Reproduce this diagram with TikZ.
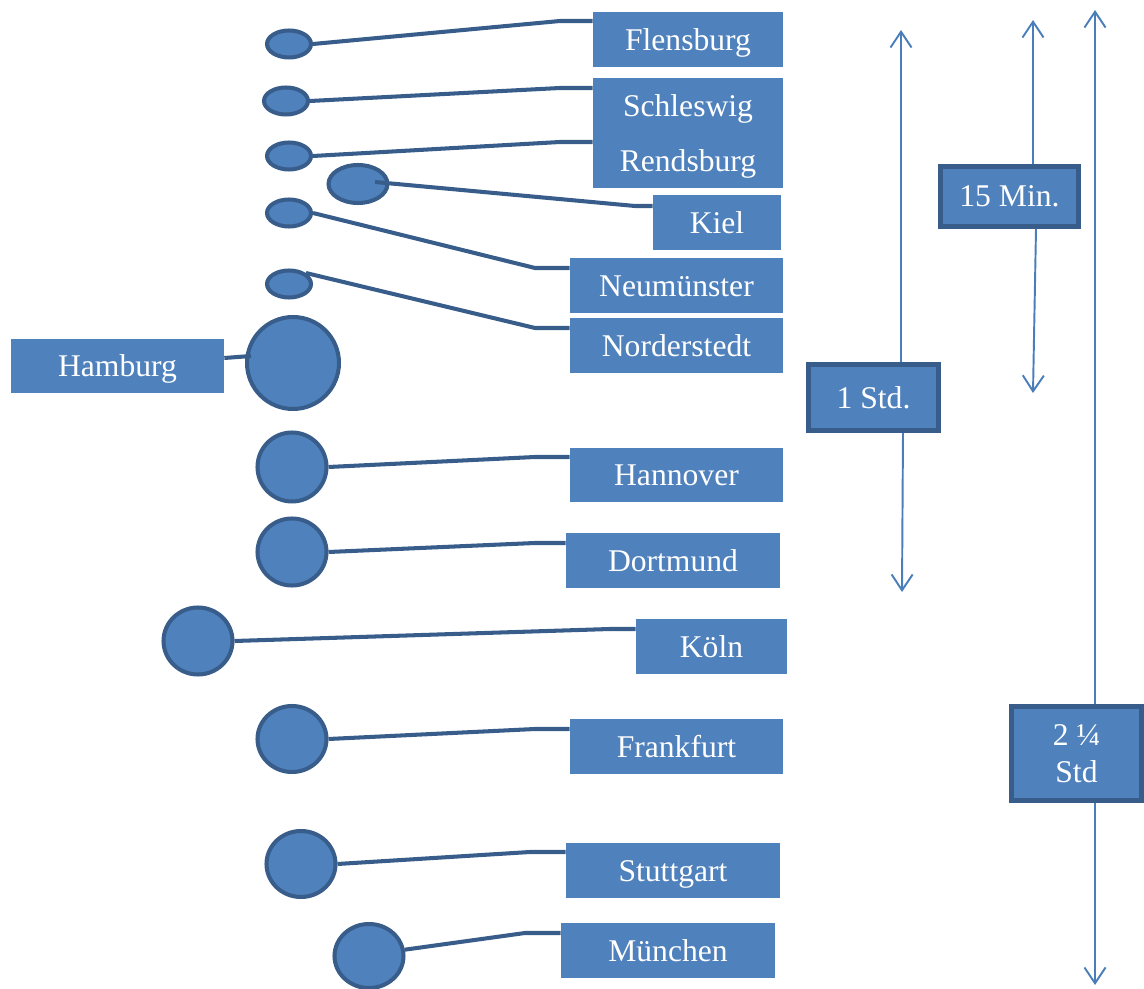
\documentclass[tikz,border=0pt]{standalone}
\usepackage{fontspec}
\setmainfont{Liberation Serif}
\usetikzlibrary{shapes.geometric,arrows.meta,calc}
\definecolor{boxblue}{HTML}{4F81BD}
\definecolor{rimblue}{HTML}{385D8A}
\definecolor{lineblue}{HTML}{4A7EBB}
\tikzset{namebox/.style={fill=boxblue,text=white,inner sep=0pt,minimum height=1.1cm,text height=13pt,text depth=1pt,font=\fontsize{18}{21}\selectfont},
  timebox/.style={namebox,text height=,text depth=,draw=rimblue,line width=2.8pt,align=center},
  town/.style={ellipse,fill=boxblue,draw=rimblue,line width=2.3pt,inner sep=0pt},
  link/.style={draw=rimblue,line width=2.3pt},
  span/.style={draw=lineblue,line width=1.1pt,-{Straight Barb[length=9pt,width=12pt]}}}

\begin{document}
\begin{tikzpicture}[x=0.02cm,y=-0.02cm]
\useasboundingbox (0,0) rectangle (1144,989);
% city names
\node[namebox,minimum width=3.8cm] (flbox) at (688,39.5) {Flensburg};
\node[namebox,minimum width=3.8cm] (scbox) at (688,105.5) {Schleswig};
\node[namebox,minimum width=3.8cm] (rebox) at (688,160.5) {Rendsburg};
\node[namebox,minimum width=2.56cm] (kibox) at (717,223) {Kiel};
\node[namebox,minimum width=4.26cm] (nebox) at (676.5,285.5) {Neumünster};
\node[namebox,minimum width=4.26cm] (nobox) at (676.5,345.5) {Norderstedt};
\node[namebox,minimum width=4.26cm] (hhbox) at (117.5,366) {Hamburg};
\node[namebox,minimum width=4.26cm] (habox) at (676.5,475) {Hannover};
\node[namebox,minimum width=4.28cm] (dmbox) at (673,560.5) {Dortmund};
\node[namebox,minimum width=3.02cm] (kobox) at (711.5,646.5) {Köln};
\node[namebox,minimum width=4.26cm] (frbox) at (676.5,746.5) {Frankfurt};
\node[namebox,minimum width=4.28cm] (stbox) at (673,870.5) {Stuttgart};
\node[namebox,minimum width=4.28cm] (mubox) at (668,950.5) {München};
% stations
\node[town,minimum width=0.88cm,minimum height=0.54cm] (fl) at (289,44) {};
\node[town,minimum width=0.88cm,minimum height=0.54cm] (sc) at (286,101) {};
\node[town,minimum width=0.88cm,minimum height=0.54cm] (re) at (289,156) {};
\node[town,minimum width=1.18cm,minimum height=0.76cm] (ki) at (358,184) {};
\node[town,minimum width=0.88cm,minimum height=0.54cm] (ne) at (289,213) {};
\node[town,minimum width=0.88cm,minimum height=0.54cm] (no) at (289,284) {};
\node[town,minimum width=1.84cm,minimum height=1.84cm] (hh) at (293,363) {};
\node[town,minimum width=1.38cm,minimum height=1.38cm] (ha) at (292,467) {};
\node[town,minimum width=1.38cm,minimum height=1.34cm] (dm) at (292,552) {};
\node[town,minimum width=1.38cm,minimum height=1.34cm] (ko) at (198,641) {};
\node[town,minimum width=1.38cm,minimum height=1.32cm] (fr) at (292,739) {};
\node[town,minimum width=1.38cm,minimum height=1.32cm] (st) at (301,864) {};
\node[town,minimum width=1.38cm,minimum height=1.28cm] (mu) at (369,956) {};
% links
\draw[link] (fl.east) -- (560,21) -- (flbox.west |- 560,21);
\draw[link] (sc.east) -- (560,88) -- (scbox.west |- 560,88);
\draw[link] (re.east) -- (560,142) -- (rebox.west |- 560,142);
\draw[link] ($(ki)+(17,-2)$) -- (635,206) -- (kibox.west |- 635,206);
\draw[link] (ne.east) -- (535,268) -- (nebox.west |- 535,268);
\draw[link] (no.north east) -- (535,328) -- (nobox.west |- 535,328);
\draw[link] (hhbox.east |- 0,358) -- ($(hh.west)+(6,-7)$);
\draw[link] (ha.east) -- (535,457) -- (habox.west |- 535,457);
\draw[link] (dm.east) -- (535,543) -- (dmbox.west |- 535,543);
\draw[link] (ko.east) -- (610,629) -- (kobox.west |- 610,629);
\draw[link] (fr.east) -- (535,729) -- (frbox.west |- 535,729);
\draw[link] (st.east) -- (530,852) -- (stbox.west |- 530,852);
\draw[link] (mu.10) -- (525,933) -- (mubox.west |- 525,933);
% travel times
\node[timebox,minimum width=2.76cm,minimum height=1.2cm] (min) at (1009.5,196.5) {15 Min.};
\node[timebox,minimum width=2.6cm,minimum height=1.32cm] (std1) at (873.5,397.5) {1 Std.};
\node[timebox,minimum width=2.6cm,minimum height=1.88cm] (std2) at (1076.5,753.5) {2 ¼\\Std};
\draw[span] (std1.north -| 901,0) -- (901,30);
\draw[span] (std1.south -| 903,0) -- (902,592);
\draw[span] (min.north -| 1033,0) -- (1033,20);
\draw[span] (min.south -| 1036,0) -- (1033,393);
\draw[span] (std2.north -| 1095,0) -- (1095,10);
\draw[span] (std2.south -| 1095,0) -- (1095,985);
\end{tikzpicture}
\end{document}
